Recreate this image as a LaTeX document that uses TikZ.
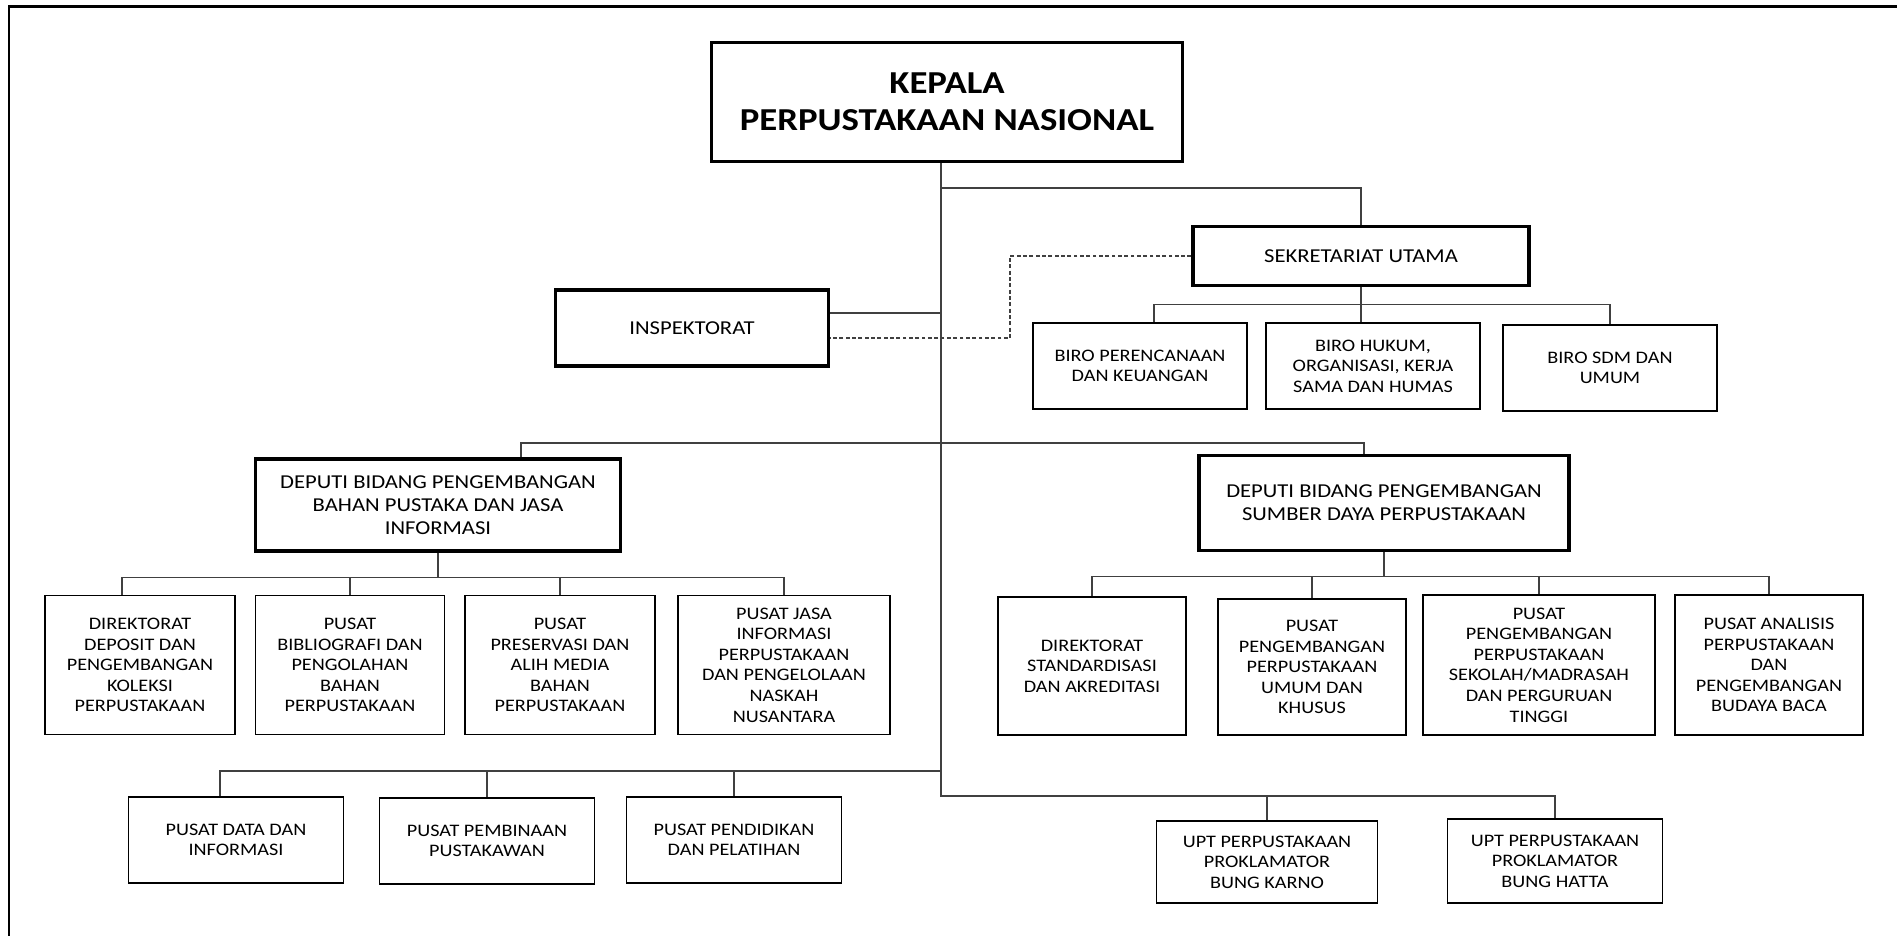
\documentclass[tikz,border=0pt]{standalone}
\usepackage{fontspec}
\setmainfont{Carlito}[FakeStretch=1.15]

\tikzset{
    unitbox/.style={draw, line width=1.1pt, inner sep=0pt, align=center,
    font=\fontsize{10}{11.7}\selectfont},
    leadbox/.style={unitbox, line width=1.9pt, font=\fontsize{11.2}{13.2}\selectfont},
    boxsize/.style 2 args={minimum width=#1*0.02cm, minimum height=#2*0.02cm},
    link/.style={draw=black!75, line width=0.7pt},
    dashlink/.style={link, dash pattern=on 2.2pt off 1.4pt}
}

\begin{document}
\begin{tikzpicture}[x=0.02cm, y=-0.02cm]
    \useasboundingbox (0,0) rectangle (1897,936);
    \draw[line width=1.7pt] (9,936) -- (9,6.5) -- (1897,6.5);

    \node[leadbox, boxsize={471}{119}, font=\bfseries\fontsize{18.2}{21}\selectfont] (kepala) at (947,102) {KEPALA\\PERPUSTAKAAN NASIONAL};
    \node[leadbox, boxsize={336}{59}] (sekre) at (1361,256) {SEKRETARIAT UTAMA};
    \node[leadbox, boxsize={273}{76}] (insp) at (692,328) {INSPEKTORAT};
    \node[unitbox, boxsize={214}{86}] (biroren) at (1140,366) {BIRO PERENCANAAN\\DAN KEUANGAN};
    \node[unitbox, boxsize={214}{86}] (biroh) at (1373,366) {BIRO HUKUM,\\ORGANISASI, KERJA\\SAMA DAN HUMAS};
    \node[unitbox, boxsize={214}{86}] (birosdm) at (1610,368) {BIRO SDM DAN\\UMUM};

    \node[leadbox, boxsize={365}{92}] (dep1) at (438,505) {DEPUTI BIDANG PENGEMBANGAN\\BAHAN PUSTAKA DAN JASA\\INFORMASI};
    \node[leadbox, boxsize={370}{95}] (dep2) at (1384,503) {DEPUTI BIDANG PENGEMBANGAN\\SUMBER DAYA PERPUSTAKAAN};

    \node[unitbox, boxsize={190}{139}] (dirdep) at (140,665) {DIREKTORAT\\DEPOSIT DAN\\PENGEMBANGAN\\KOLEKSI\\PERPUSTAKAAN};
    \node[unitbox, boxsize={189}{139}] (biblio) at (350,665) {PUSAT\\BIBLIOGRAFI DAN\\PENGOLAHAN\\BAHAN\\PERPUSTAKAAN};
    \node[unitbox, boxsize={190}{139}] (preserv) at (560,665) {PUSAT\\PRESERVASI DAN\\ALIH MEDIA\\BAHAN\\PERPUSTAKAAN};
    \node[unitbox, boxsize={212}{139}] (jasa) at (784,665) {PUSAT JASA\\INFORMASI\\PERPUSTAKAAN\\DAN PENGELOLAAN\\NASKAH\\NUSANTARA};

    \node[unitbox, boxsize={188}{138}] (standar) at (1092,666) {DIREKTORAT\\STANDARDISASI\\DAN AKREDITASI};
    \node[unitbox, boxsize={188}{136}] (umum) at (1312,667) {PUSAT\\PENGEMBANGAN\\PERPUSTAKAAN\\UMUM DAN\\KHUSUS};
    \node[unitbox, boxsize={232}{140}] (sekolah) at (1539,665) {PUSAT\\PENGEMBANGAN\\PERPUSTAKAAN\\SEKOLAH/MADRASAH\\DAN PERGURUAN\\TINGGI};
    \node[unitbox, boxsize={188}{140}] (analis) at (1769,665) {PUSAT ANALISIS\\PERPUSTAKAAN\\DAN\\PENGEMBANGAN\\BUDAYA BACA};

    \node[unitbox, boxsize={215}{86}] (pusdata) at (236,840) {PUSAT DATA DAN\\INFORMASI};
    \node[unitbox, boxsize={215}{86}] (pembin) at (487,841) {PUSAT PEMBINAAN\\PUSTAKAWAN};
    \node[unitbox, boxsize={215}{86}] (pendid) at (734,840) {PUSAT PENDIDIKAN\\DAN PELATIHAN};
    \node[unitbox, boxsize={221}{82}] (karno) at (1267,862) {UPT PERPUSTAKAAN\\PROKLAMATOR\\BUNG KARNO};
    \node[unitbox, boxsize={215}{84}] (hatta) at (1555,861) {UPT PERPUSTAKAAN\\PROKLAMATOR\\BUNG HATTA};

    \coordinate (jsek) at (941,188);
    \coordinate (jinsp) at (941,313);
    \coordinate (jdash) at (1010,338);
    \coordinate (jdep) at (941,443);
    \coordinate (jpus) at (941,771);
    \coordinate (jupt) at (941,796);
    \coordinate (tbiroren) at ([xshift=0.28cm]biroren.north);
    \coordinate (tdep1) at ([xshift=1.66cm]dep1.north);
    \coordinate (tdep2) at ([xshift=-0.4cm]dep2.north);
    \coordinate (tdirdep) at ([xshift=-0.36cm]dirdep.north);
    \coordinate (tpusdata) at ([xshift=-0.32cm]pusdata.north);
    \path (sekre.south) ++(0,17) coordinate (jsekbar);
    \path (dep1.south) ++(0,25) coordinate (jd1);
    \path (dep2.south) ++(0,24) coordinate (jd2);

    \draw[link] (kepala.south -| jupt) -- (jupt) -| (hatta.north);
    \draw[link] (jsek) -| (sekre.north);
    \draw[link] (jinsp) -- (jinsp -| insp.east);
    \draw[dashlink] (sekre.west) -| (jdash) -- (jdash -| insp.east);
    \draw[link] (sekre.south) -- (sekre.south |- biroh.north);
    \draw[link] (tbiroren) |- (jsekbar) -| (birosdm.north);
    \draw[link] (tdep1) |- (jdep) -| (tdep2);
    \draw[link] (dep1.south) -- (jd1);
    \draw[link] (tdirdep) |- (jd1) -| (jasa.north);
    \draw[link] (jd1 -| biblio.north) -- (biblio.north);
    \draw[link] (jd1 -| preserv.north) -- (preserv.north);
    \draw[link] (dep2.south) -- (jd2);
    \draw[link] (standar.north) |- (jd2) -| (analis.north);
    \draw[link] (jd2 -| umum.north) -- (umum.north);
    \draw[link] (jd2 -| sekolah.north) -- (sekolah.north);
    \draw[link] (tpusdata) |- (jpus);
    \draw[link] (jpus -| pembin.north) -- (pembin.north);
    \draw[link] (jpus -| pendid.north) -- (pendid.north);
    \draw[link] (jupt -| karno.north) -- (karno.north);
\end{tikzpicture}
\end{document}
